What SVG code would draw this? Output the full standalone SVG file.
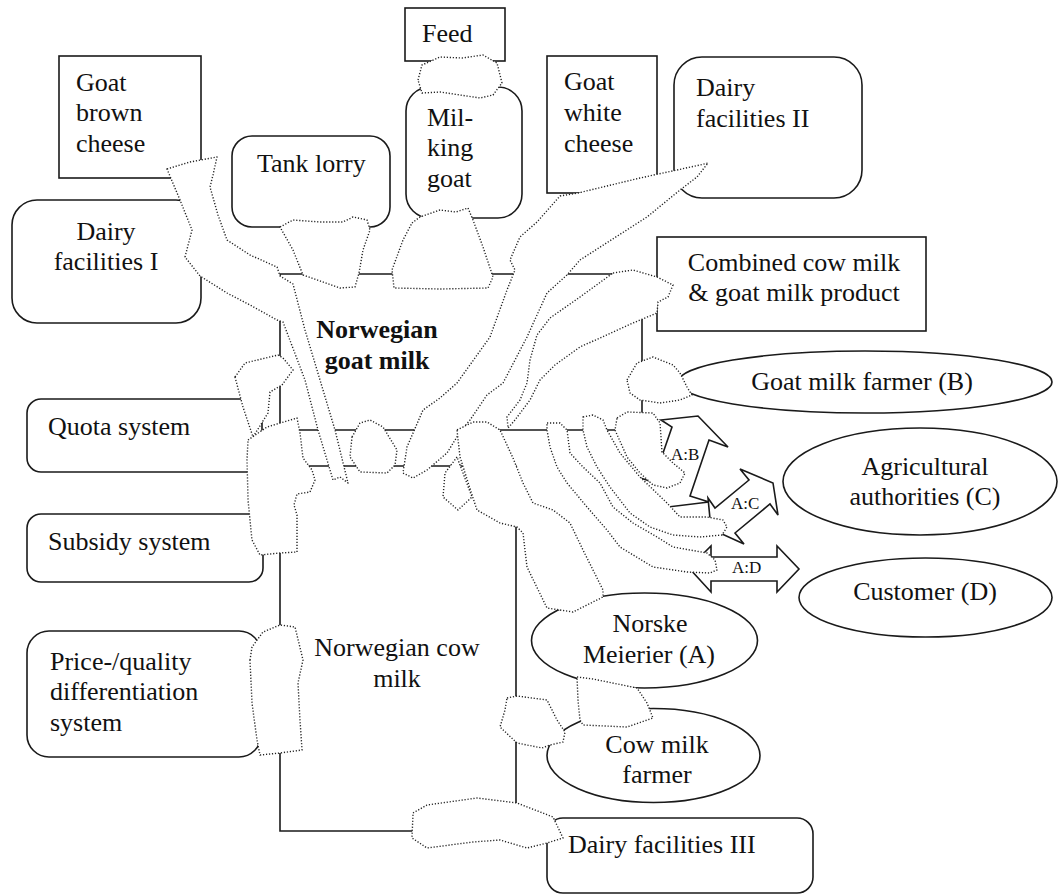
<svg xmlns="http://www.w3.org/2000/svg" width="1060" height="895" viewBox="0 0 1060 895">
<style>
.box{fill:#fff;stroke:#1a1a1a;stroke-width:1.6}
.ln{fill:none;stroke:#1a1a1a;stroke-width:1.6}
.t{font-family:"Liberation Serif","Times New Roman",serif;font-size:26px;fill:#111}
.b{font-weight:bold}
.m{text-anchor:middle}
.lbl{font-family:"Liberation Serif","Times New Roman",serif;font-size:17px;fill:#111}
.arr{fill:#fff;stroke:#1a1a1a;stroke-width:1.6;stroke-linejoin:miter}
.blob{fill:#fff;stroke:#222;stroke-width:1.4;stroke-dasharray:1.2 1.8;stroke-linejoin:round}
</style>
<rect width="1060" height="895" fill="#fff"/>

<g id="goat-milk-area">
<path class="ln" d="M642,430 L642,274 L280,274 L280,430 L642,430"/>
<text class="t b m" x="377" y="338">Norwegian</text>
<text class="t b m" x="377" y="369">goat milk</text>
</g>
<g id="cow-milk-area">
<path class="ln" d="M280,430 L280,831 L516,831 L516,466 L280,466"/>
<text class="t m" x="397" y="656">Norwegian cow</text>
<text class="t m" x="397" y="687">milk</text>
</g>

<g id="feed"><rect class="box" x="405" y="8" width="100" height="53"/><text class="t" x="422" y="42">Feed</text></g>
<g id="goat-brown-cheese"><rect class="box" x="59" y="56" width="142" height="122"/><text class="t" x="76" y="91">Goat</text><text class="t" x="76" y="121">brown</text><text class="t" x="76" y="152">cheese</text></g>
<g id="tank-lorry"><rect class="box" x="232" y="136" width="158" height="91" rx="20"/><text class="t" x="257" y="172">Tank lorry</text></g>
<g id="milking-goat"><rect class="box" x="406" y="87" width="116" height="131" rx="24"/><text class="t" x="427" y="126">Mil-</text><text class="t" x="427" y="156">king</text><text class="t" x="427" y="187">goat</text></g>
<g id="goat-white-cheese"><rect class="box" x="547" y="56" width="110" height="137"/><text class="t" x="564" y="90">Goat</text><text class="t" x="564" y="121">white</text><text class="t" x="564" y="152">cheese</text></g>
<g id="dairy-facilities-2"><rect class="box" x="674" y="57" width="188" height="141" rx="28"/><text class="t" x="696" y="96">Dairy</text><text class="t" x="696" y="127">facilities II</text></g>
<g id="dairy-facilities-1"><rect class="box" x="12" y="200" width="189" height="123" rx="25"/><text class="t m" x="106" y="240">Dairy</text><text class="t m" x="106" y="270">facilities I</text></g>
<g id="combined-product"><rect class="box" x="657" y="237" width="269" height="94"/><text class="t m" x="794" y="271">Combined cow milk</text><text class="t m" x="794" y="301">&amp; goat milk product</text></g>
<g id="goat-milk-farmer"><ellipse class="box" cx="865" cy="382" rx="187" ry="31"/><text class="t m" x="862" y="390">Goat milk farmer (B)</text></g>
<g id="quota-system"><rect class="box" x="27" y="399" width="235" height="73" rx="14"/><text class="t" x="48" y="435">Quota system</text></g>
<g id="agricultural-authorities"><ellipse class="box" cx="920" cy="481.5" rx="137" ry="53.5"/><text class="t m" x="925" y="475">Agricultural</text><text class="t m" x="925" y="505">authorities (C)</text></g>
<g id="subsidy-system"><rect class="box" x="27" y="514" width="236" height="68" rx="14"/><text class="t" x="48" y="550">Subsidy system</text></g>
<g id="customer"><ellipse class="box" cx="925.5" cy="597.5" rx="126.5" ry="39.5"/><text class="t m" x="925" y="600">Customer (D)</text></g>
<g id="price-quality"><rect class="box" x="27" y="631" width="234" height="126" rx="22"/><text class="t" x="50" y="670">Price-/quality</text><text class="t" x="50" y="700">differentiation</text><text class="t" x="50" y="731">system</text></g>
<g id="norske-meierier"><ellipse class="box" cx="644.5" cy="640.5" rx="113" ry="47.5"/><text class="t m" x="650" y="632">Norske</text><text class="t m" x="649" y="663">Meierier (A)</text></g>
<g id="cow-milk-farmer"><ellipse class="box" cx="653.5" cy="755.5" rx="106.5" ry="47"/><text class="t m" x="657" y="753">Cow milk</text><text class="t m" x="657" y="783">farmer</text></g>
<g id="dairy-facilities-3"><rect class="box" x="547" y="818" width="266" height="75" rx="16"/><text class="t" x="568" y="853">Dairy facilities III</text></g>

<g id="connectors">
<g id="arrow-ab"><polygon class="arr" points="661,420 698,416 728,447 709,440 690,496 709,502 668,507 637,477 653,482 672,427"/><text class="lbl" x="671" y="460">A:B</text></g>
<g id="arrow-ac"><polygon class="arr" points="773,483 778,515 770,504 735,533 744,544 711,529 708,498 715,508 749,480 740,469"/><text class="lbl" x="731" y="509">A:C</text></g>
<g id="arrow-ad"><polygon class="arr" points="689,568 711,546 711,557 777,557 777,546 799,569 777,592 777,581 711,581 711,592"/><text class="lbl" x="732" y="573">A:D</text></g>

<path class="blob" d="M418,80 L422,65 L440,57 L462,58 L483,55 L497,63 L502,83 L493,95 L480,98 L460,95 L440,92 L422,93 Z"/>
<path class="blob" d="M412,223 L420,217 L440,210 L456,212 L468,208 L473,220 L483,247 L493,277 L488,288 L440,289 L394,288 L392,270 L403,240 Z"/>
<path class="blob" d="M280,227 L293,220 L320,222 L343,222 L353,217 L367,220 L370,230 L363,250 L359,273 L355,287 L340,288 L303,275 L293,250 Z"/>
<path class="blob" d="M167,169 L190,162 L217,157 L213,175 L210,187 L218,215 L227,240 L250,255 L277,267 L280,276 L293,284 L305,330 L320,380 L335,430 L348,483 L340,477 L333,480 L318,430 L305,380 L283,322 L277,320 L250,305 L227,293 L200,276 L185,257 L192,230 L180,200 Z"/>
<path class="blob" d="M235,377 L245,363 L278,355 L283,358 L293,370 L282,385 L270,392 L268,413 L253,437 L243,407 Z"/>
<path class="blob" d="M248,440 L267,427 L297,418 L300,433 L303,458 L312,470 L315,480 L310,492 L297,494 L294,505 L297,515 L297,552 L280,553 L260,555 L252,540 L248,500 L247,460 Z"/>
<path class="blob" d="M250,660 L252,647 L263,632 L280,625 L295,627 L303,660 L298,683 L300,720 L302,750 L280,753 L260,755 L257,740 L252,703 Z"/>
<path class="blob" d="M352,437 L360,423 L370,420 L383,427 L397,450 L395,465 L387,473 L360,472 L350,457 Z"/>
<path class="blob" d="M560,196 L578,193 L640,178 L700,165 L708,163 L697,177 L680,190 L647,217 L580,260 L567,275 L547,293 L527,337 L503,383 L487,395 L470,420 L460,432 L447,453 L427,470 L413,478 L403,473 L407,447 L423,410 L440,398 L457,383 L490,337 L507,290 L515,270 L510,260 L520,237 L537,222 Z"/>
<path class="blob" d="M613,273 L633,270 L657,277 L673,285 L668,297 L658,302 L657,313 L633,323 L580,347 L555,365 L540,380 L530,400 L515,420 L508,428 L507,417 L520,400 L527,383 L530,360 L537,335 L550,318 L580,297 Z"/>
<path class="blob" d="M457,457 L445,473 L443,497 L458,510 L472,497 Z"/>
<path class="blob" d="M457,430 L473,422 L487,422 L500,430 L513,458 L523,483 L533,503 L553,510 L570,523 L583,550 L603,590 L603,597 L573,612 L547,608 L527,567 L523,533 L517,527 L500,523 L477,510 L473,498 L460,457 Z"/>
<path class="blob" d="M627,380 L637,363 L653,357 L673,365 L680,373 L687,387 L692,395 L680,400 L660,403 L640,400 L630,393 Z"/>
<path class="blob" d="M617,418 L627,412 L653,413 L660,423 L662,452 L673,463 L685,473 L680,483 L667,488 L653,485 L640,473 L627,457 L615,430 Z"/>
<path class="blob" d="M583,417 L593,415 L603,420 L607,430 L620,453 L640,477 L667,503 L680,517 L707,517 L723,520 L727,527 L722,535 L700,537 L673,535 L650,527 L630,513 L610,487 L597,467 L587,447 L583,430 Z"/>
<path class="blob" d="M547,423 L560,423 L567,430 L570,453 L583,467 L600,483 L613,507 L633,523 L657,537 L673,547 L707,553 L715,560 L717,570 L710,573 L687,572 L653,567 L620,547 L607,530 L587,507 L567,483 L557,467 L550,447 L547,430 Z"/>
<path class="blob" d="M577,677 L593,679 L637,688 L647,703 L653,718 L627,727 L583,725 L580,720 L578,700 Z"/>
<path class="blob" d="M507,698 L517,696 L547,700 L557,720 L565,732 L563,742 L550,745 L542,748 L517,743 L500,727 L505,710 Z"/>
<path class="blob" d="M413,813 L427,805 L477,798 L517,803 L553,817 L563,838 L547,843 L527,848 L500,840 L473,842 L427,848 L412,838 Z"/>
</g>
</svg>
